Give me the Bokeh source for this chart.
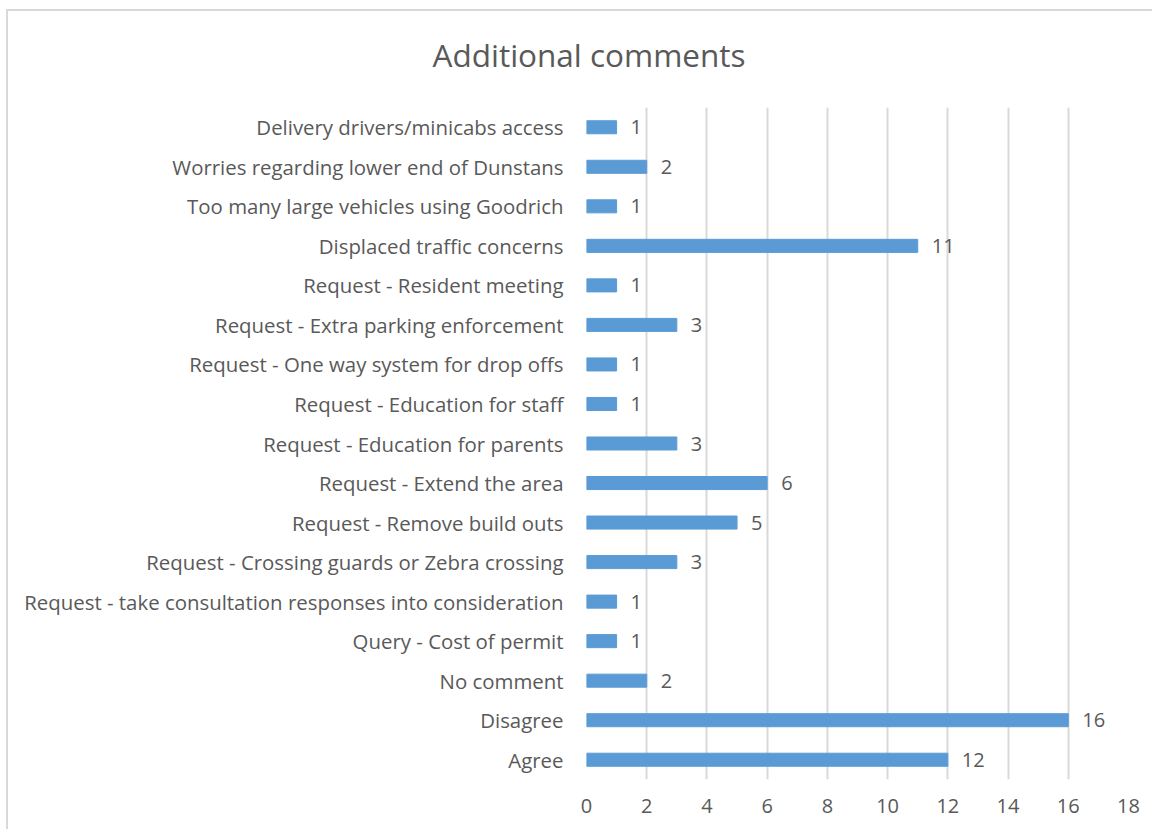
from bokeh.plotting import figure
from bokeh.layouts import column
from bokeh.models import ColumnDataSource, FactorRange, Range1d, FixedTicker, Title
from bokeh.core.properties import value
from bokeh.embed import file_html
from bokeh.resources import INLINE

categories = [
    "Delivery drivers/minicabs access",
    "Worries regarding lower end of Dunstans",
    "Too many large vehicles using Goodrich",
    "Displaced traffic concerns",
    "Request - Resident meeting",
    "Request - Extra parking enforcement",
    "Request - One way system for drop offs",
    "Request - Education for staff",
    "Request - Education for parents",
    "Request - Extend the area",
    "Request - Remove build outs",
    "Request - Crossing guards or Zebra crossing",
    "Request - take consultation responses into consideration",
    "Query - Cost of permit",
    "No comment",
    "Disagree",
    "Agree",
]
counts = [1, 2, 1, 11, 1, 3, 1, 1, 3, 6, 5, 3, 1, 1, 2, 16, 12]
x_ticks = [0, 2, 4, 6, 8, 10, 12, 14, 16, 18]
title_text = "Additional comments"

FONT = "Open Sans"
GREY = "#595959"
W = 1144
TITLE_H = 96
MAIN_H = 722

# ---- title strip: title drawn in its "above" panel (never clipped) ----
tp = figure(width=W, height=TITLE_H, x_range=Range1d(0, 18), y_range=Range1d(0, 1),
            x_axis_type=None, y_axis_type=None, output_backend="svg",
            toolbar_location=None, min_border_left=578, min_border_right=24,
            min_border_top=0, min_border_bottom=0)
tp.title.visible = False
tp.outline_line_color = None
tp.xgrid.visible = False
tp.ygrid.visible = False
tp.add_layout(Title(text=title_text, align="left", offset=-154, standoff=41,
                    vertical_align="middle",
                    text_font=FONT, text_font_size="31.5px", text_font_style="normal",
                    text_color=GREY), "above")

# ---- main chart ----
source = ColumnDataSource(dict(cat=categories, n=counts, lbl=[str(c) for c in counts]))

p = figure(
    width=W, height=MAIN_H,
    y_range=FactorRange(*reversed(categories), range_padding=0),
    x_range=Range1d(0, 18),
    output_backend="svg", toolbar_location=None,
    min_border_left=578, min_border_right=24, min_border_top=0, min_border_bottom=50,
)
p.title.visible = False

p.hbar(y="cat", right="n", left=0, height=0.33, source=source, color="#5B9BD5")
p.text(x="n", y="cat", text="lbl", source=source, x_offset=14,
       text_align="left", text_baseline="middle",
       text_font=value(FONT), text_font_size="20px", text_color=GREY)

p.outline_line_color = None
p.xaxis.ticker = FixedTicker(ticks=x_ticks)
p.xaxis.axis_line_color = None
p.xaxis.major_tick_line_color = None
p.xaxis.minor_tick_line_color = None
p.xaxis.major_label_text_font = FONT
p.xaxis.major_label_text_font_size = "20px"
p.xaxis.major_label_text_color = GREY
p.xaxis.major_label_standoff = 13

p.yaxis.axis_line_color = None
p.yaxis.major_tick_line_color = None
p.yaxis.major_label_text_font = FONT
p.yaxis.major_label_text_font_size = "20.4px"
p.yaxis.major_label_text_color = GREY
p.yaxis.major_label_standoff = 17

p.xgrid.ticker = FixedTicker(ticks=x_ticks)
p.xgrid.grid_line_color = "#d9d9d9"
p.xgrid.grid_line_width = 2
p.ygrid.grid_line_color = None

layout = column(tp, p, spacing=0)
layout.styles = {"border-top": "2px solid #d9d9d9", "border-left": "2px solid #d9d9d9",
                 "margin-left": "6px", "margin-top": "9px"}

open("out.html", "w").write(file_html(layout, INLINE))
